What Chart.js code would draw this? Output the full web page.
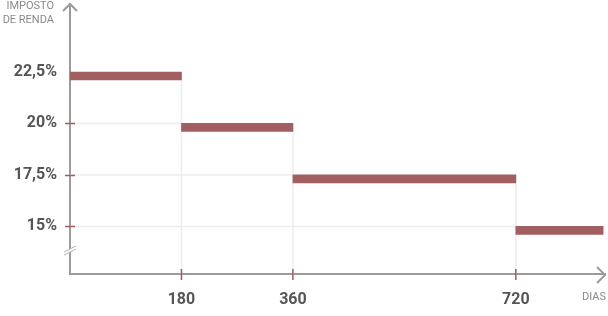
<!DOCTYPE html>
<html>
<head>
<meta charset="utf-8">
<script src="https://cdn.jsdelivr.net/npm/chart.js@4.4.0/dist/chart.umd.min.js"></script>
<style>
    html, body { margin: 0; padding: 0; background: #fff; }
    #wrap { width: 608px; height: 316px; position: relative; }
</style>
</head>
<body>
<div id="wrap"><canvas id="chartIR"></canvas></div>
<script>
// tabela regressiva do IR: aliquota por faixa de dias
const rates = [22.5, 20, 17.5, 15];
const dayStart = [0, 180, 360, 720];
const dayEnd = [180, 360, 720, 861];
const dayTicks = [180, 360, 720];
const rateTicks = [15, 17.5, 20, 22.5];

const Y_MIN = 12.69;
const Y_MAX = 25.8;
const X_MAX = 864;

const BAR_COLOR = '#a15f61';
const TICK_RED = '#a65a5c';
const AXIS_GREY = '#9b9b9b';
const GUIDE_GREY = '#ececec';
const LABEL_GREY = '#555555';

const fmtRate = v => String(v).replace('.', ',') + '%';

// guias: horizontal do eixo ate o inicio da faixa, vertical do fim da faixa ate o eixo
const guideSets = [];
rates.forEach((r, i) => {
    if (dayStart[i] > 0) {
        guideSets.push([{ x: 0, y: r }, { x: dayStart[i], y: r }]);
    }
    if (dayTicks.includes(dayEnd[i])) {
        guideSets.push([{ x: dayEnd[i], y: r }, { x: dayEnd[i], y: Y_MIN }]);
    }
});

const barData = rates.map((r, i) => ({ x: [dayStart[i], dayEnd[i]], y: r }));

// barras ficam com o topo na linha da aliquota
const barShift = {
    id: 'barShift',
    beforeDatasetDraw(chart, args) {
        if (args.meta.type !== 'bar') return;
        chart.ctx.save();
        chart.ctx.translate(0, 4);
    },
    afterDatasetDraw(chart, args) {
        if (args.meta.type !== 'bar') return;
        chart.ctx.restore();
    },
};

// setas, quebra do eixo, marcas vermelhas e titulos
const decorations = {
    id: 'decorations',
    afterDraw(chart) {
        const { ctx, chartArea, scales } = chart;
        const x0 = scales.x.getPixelForValue(0);
        const yb = scales.y.getPixelForValue(Y_MIN) + 1;
        ctx.save();

        // quebra do eixo y
        const by = 250;
        ctx.fillStyle = '#fff';
        ctx.beginPath();
        ctx.moveTo(x0 - 6, by + 2);
        ctx.lineTo(x0 + 6, by - 4);
        ctx.lineTo(x0 + 6, by - 1);
        ctx.lineTo(x0 - 6, by + 5);
        ctx.closePath();
        ctx.fill();
        ctx.strokeStyle = '#b4b4b4';
        ctx.lineWidth = 1;
        ctx.beginPath();
        ctx.moveTo(x0 - 6, by + 2); ctx.lineTo(x0 + 6, by - 4);
        ctx.moveTo(x0 - 6, by + 5); ctx.lineTo(x0 + 6, by - 1);
        ctx.stroke();

        // setas
        ctx.strokeStyle = AXIS_GREY;
        ctx.lineWidth = 2;
        ctx.beginPath();
        ctx.moveTo(x0 - 7, chartArea.top + 7);
        ctx.lineTo(x0, chartArea.top);
        ctx.lineTo(x0 + 7, chartArea.top + 7);
        ctx.moveTo(chartArea.right - 8, yb - 8);
        ctx.lineTo(chartArea.right, yb);
        ctx.lineTo(chartArea.right - 8, yb + 8);
        ctx.stroke();

        // marcas vermelhas
        ctx.strokeStyle = TICK_RED;
        ctx.lineWidth = 1.5;
        ctx.beginPath();
        rates.forEach((r, i) => {
            if (dayStart[i] === 0) return;
            const py = Math.round(scales.y.getPixelForValue(r)) + 0.5;
            ctx.moveTo(x0 - 5, py); ctx.lineTo(x0 + 5, py);
        });
        dayTicks.forEach(d => {
            const px = scales.x.getPixelForValue(d);
            ctx.moveTo(px, yb - 6); ctx.lineTo(px, yb + 5);
        });
        ctx.stroke();

        // titulos dos eixos
        ctx.fillStyle = '#8a8a8a';
        ctx.font = '11px Roboto';
        ctx.textAlign = 'right';
        ctx.textBaseline = 'middle';
        ctx.fillText('IMPOSTO', 54, 6);
        ctx.fillText('DE RENDA', 54, 20);
        ctx.fillText('DIAS', chartArea.right + 1, 297);
        ctx.restore();
    },
};

const guideDatasets = guideSets.map(pts => ({
    type: 'line',
    data: pts,
    borderColor: GUIDE_GREY,
    borderWidth: 1.5,
    pointRadius: 0,
    order: 2,
}));

new Chart(document.getElementById('chartIR'), {
    type: 'bar',
    data: {
        datasets: [
            {
                type: 'bar',
                indexAxis: 'y',
                data: barData,
                backgroundColor: BAR_COLOR,
                barThickness: 8,
                borderWidth: 0,
                order: 0,
            },
            ...guideDatasets,
        ],
    },
    options: {
        responsive: true,
        maintainAspectRatio: false,
        animation: false,
        layout: { padding: { top: 4, right: 3, left: 0, bottom: 0 } },
        plugins: {
            legend: { display: false },
            tooltip: { enabled: false },
        },
        scales: {
            x: {
                type: 'linear',
                offset: false,
                min: 0,
                max: X_MAX,
                afterBuildTicks: scale => { scale.ticks = dayTicks.map(v => ({ value: v })); },
                afterFit: scale => {
                    scale.height = 42;
                    scale.paddingLeft = 0;
                    scale.paddingRight = 0;
                },
                grid: { display: false, drawTicks: false, offset: false },
                border: { display: true, color: AXIS_GREY, width: 2 },
                ticks: {
                    padding: 16,
                    color: LABEL_GREY,
                    font: { family: 'Roboto', size: 16, weight: 'bold' },
                    maxRotation: 0,
                    callback: v => String(v),
                },
            },
            y: {
                type: 'linear',
                offset: false,
                min: Y_MIN,
                max: Y_MAX,
                afterBuildTicks: scale => { scale.ticks = rateTicks.map(v => ({ value: v })); },
                afterFit: scale => {
                    scale.width = 70;
                    scale.paddingTop = 0;
                    scale.paddingBottom = 0;
                },
                grid: { display: false, drawTicks: false, offset: false },
                border: { display: true, color: AXIS_GREY, width: 2 },
                ticks: {
                    padding: 13,
                    color: LABEL_GREY,
                    font: { family: 'Roboto', size: 16, weight: 'bold' },
                    callback: v => fmtRate(v),
                },
            },
        },
    },
    plugins: [barShift, decorations],
});
</script>
</body>
</html>
